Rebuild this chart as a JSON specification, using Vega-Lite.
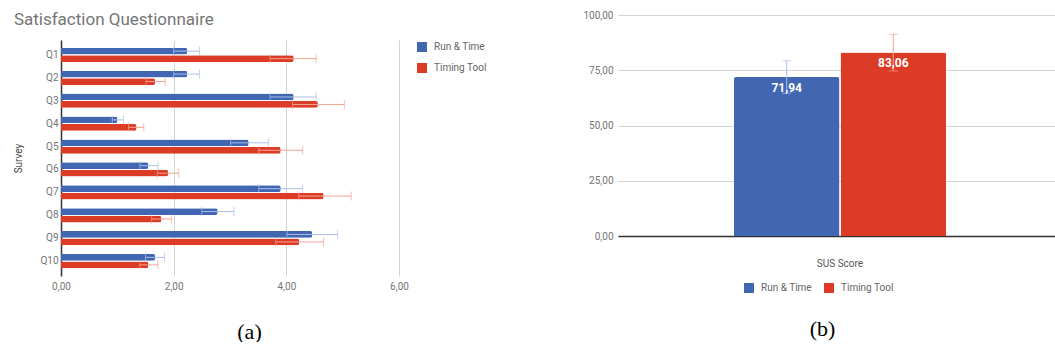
{
  "$schema": "https://vega.github.io/schema/vega-lite/v6.json",
  "padding": {"left": 13, "top": 10, "right": 0, "bottom": 0},
  "config": {
    "locale": {"number": {"decimal": ",", "thousands": ".", "grouping": [3], "currency": ["", " €"]}},
    "font": "Roboto",
    "view": {"stroke": null},
    "axis": {"labelColor": "#757575", "labelFontSize": 10, "labelFlush": false, "titleColor": "#444444", "titleFontWeight": "normal", "ticks": false, "domain": false, "gridColor": "#d4d4d4"},
    "legend": {"labelColor": "#666666", "labelFontSize": 10, "symbolType": "square", "symbolSize": 100, "symbolStrokeWidth": 0, "labelOffset": 7, "title": null}
  },
  "spacing": 95,
  "resolve": {"legend": {"color": "independent"}, "scale": {"color": "independent"}},
  "hconcat": [
    {
      "title": {"text": "Satisfaction Questionnaire", "anchor": "start", "frame": "bounds", "fontSize": 17, "fontWeight": "normal", "color": "#757575", "offset": -14},
      "width": 338,
      "height": 261,
      "data": {"values": [
        {"question": "Q1", "series": "Run & Time", "value": 2.24, "lo": 2.00, "hi": 2.46},
        {"question": "Q1", "series": "Timing Tool", "value": 4.13, "lo": 3.71, "hi": 4.53},
        {"question": "Q2", "series": "Run & Time", "value": 2.24, "lo": 2.00, "hi": 2.46},
        {"question": "Q2", "series": "Timing Tool", "value": 1.67, "lo": 1.51, "hi": 1.85},
        {"question": "Q3", "series": "Run & Time", "value": 4.13, "lo": 3.71, "hi": 4.53},
        {"question": "Q3", "series": "Timing Tool", "value": 4.56, "lo": 4.11, "hi": 5.03},
        {"question": "Q4", "series": "Run & Time", "value": 1.00, "lo": 0.91, "hi": 1.11},
        {"question": "Q4", "series": "Timing Tool", "value": 1.34, "lo": 1.20, "hi": 1.47},
        {"question": "Q5", "series": "Run & Time", "value": 3.33, "lo": 3.01, "hi": 3.68},
        {"question": "Q5", "series": "Timing Tool", "value": 3.90, "lo": 3.51, "hi": 4.29},
        {"question": "Q6", "series": "Run & Time", "value": 1.55, "lo": 1.40, "hi": 1.72},
        {"question": "Q6", "series": "Timing Tool", "value": 1.90, "lo": 1.71, "hi": 2.09},
        {"question": "Q7", "series": "Run & Time", "value": 3.90, "lo": 3.51, "hi": 4.29},
        {"question": "Q7", "series": "Timing Tool", "value": 4.66, "lo": 4.22, "hi": 5.15},
        {"question": "Q8", "series": "Run & Time", "value": 2.78, "lo": 2.50, "hi": 3.07},
        {"question": "Q8", "series": "Timing Tool", "value": 1.78, "lo": 1.61, "hi": 1.96},
        {"question": "Q9", "series": "Run & Time", "value": 4.46, "lo": 4.01, "hi": 4.91},
        {"question": "Q9", "series": "Timing Tool", "value": 4.23, "lo": 3.81, "hi": 4.66},
        {"question": "Q10", "series": "Run & Time", "value": 1.67, "lo": 1.50, "hi": 1.84},
        {"question": "Q10", "series": "Timing Tool", "value": 1.55, "lo": 1.40, "hi": 1.72}
      ]},
      "encoding": {
        "y": {"field": "question", "type": "nominal", "sort": null,
              "scale": {"range": [25, 261], "paddingInner": 0.38, "paddingOuter": 0.34},
              "axis": {"title": "Survey", "titleFontSize": 10, "domain": true, "domainColor": "#333333", "domainWidth": 1.5, "labelPadding": 3, "titlePadding": 16, "grid": false}},
        "yOffset": {"field": "series", "type": "nominal", "sort": ["Run & Time", "Timing Tool"], "scale": {"paddingInner": 0.1}}
      },
      "resolve": {"axis": {"x": "independent"}},
      "layer": [
        {
          "mark": {"type": "bar", "cornerRadiusEnd": 2},
          "encoding": {
            "x": {"field": "value", "type": "quantitative", "scale": {"domain": [0, 6]},
                  "axis": {"values": [0, 2, 4, 6], "format": ".2f", "grid": false, "labelPadding": 5,
                           "title": "(a)", "titleFont": "Liberation Serif", "titleFontSize": 22, "titleColor": "#000000",
                           "titleX": 188, "titleY": 55, "titleBaseline": "middle"}},
            "color": {"field": "series", "type": "nominal", "sort": ["Run & Time", "Timing Tool"],
                      "scale": {"domain": ["Run & Time", "Timing Tool"], "range": ["#4267b2", "#dc3c25"]},
                      "legend": {"orient": "none", "legendX": 356, "legendY": 27, "rowPadding": 11}}
          }
        },
        {
          "mark": {"type": "rule", "strokeWidth": 1},
          "encoding": {
            "x": {"field": "lo", "type": "quantitative",
                  "axis": {"orient": "top", "values": [2, 4, 6], "grid": true, "labels": false, "domain": false, "ticks": false, "title": null}},
            "x2": {"field": "hi"},
            "color": {"condition": {"test": "datum.series === 'Run & Time'", "value": "#a9bfe8"}, "value": "#f4a393"}
          }
        },
        {
          "mark": {"type": "tick", "thickness": 1, "size": 9, "orient": "vertical"},
          "encoding": {
            "x": {"field": "lo", "type": "quantitative", "axis": null},
            "color": {"condition": {"test": "datum.series === 'Run & Time'", "value": "#a9bfe8"}, "value": "#f4a393"}
          }
        },
        {
          "mark": {"type": "tick", "thickness": 1, "size": 9, "orient": "vertical"},
          "encoding": {
            "x": {"field": "hi", "type": "quantitative", "axis": null},
            "color": {"condition": {"test": "datum.series === 'Run & Time'", "value": "#a9bfe8"}, "value": "#f4a393"}
          }
        }
      ]
    },
    {
      "width": 444,
      "height": 221,
      "data": {"values": [
        {"metric": "SUS Score", "series": "Run & Time", "value": 71.94, "lo": 64.6, "hi": 79.3},
        {"metric": "SUS Score", "series": "Timing Tool", "value": 83.06, "lo": 74.7, "hi": 91.3}
      ]},
      "encoding": {
        "x": {"field": "metric", "type": "nominal",
              "scale": {"paddingInner": 0, "paddingOuter": 0.547},
              "axis": {"labelAngle": 0, "domain": true, "domainColor": "#333333", "domainWidth": 1.5, "labelPadding": 22, "labelColor": "#555555",
                       "title": "(b)", "titleFont": "Liberation Serif", "titleFontSize": 22, "titleColor": "#000000",
                       "titleX": 204, "titleY": 92, "titleBaseline": "middle"}},
        "xOffset": {"field": "series", "type": "nominal", "sort": ["Run & Time", "Timing Tool"], "scale": {"paddingInner": 0.01}}
      },
      "layer": [
        {
          "mark": {"type": "bar", "cornerRadiusTopLeft": 2, "cornerRadiusTopRight": 2},
          "encoding": {
            "y": {"field": "value", "type": "quantitative", "scale": {"domain": [0, 100]},
                  "axis": {"values": [0, 25, 50, 75, 100], "format": ".2f", "grid": true, "title": null, "labelPadding": 5}},
            "color": {"field": "series", "type": "nominal", "sort": ["Run & Time", "Timing Tool"],
                      "scale": {"domain": ["Run & Time", "Timing Tool"], "range": ["#4267b2", "#dc3c25"]},
                      "legend": {"orient": "none", "direction": "horizontal", "legendX": 126, "legendY": 268, "columnPadding": 12}}
          }
        },
        {
          "mark": {"type": "rule", "strokeWidth": 1},
          "encoding": {
            "y": {"field": "lo", "type": "quantitative"},
            "y2": {"field": "hi"},
            "color": {"condition": {"test": "datum.series === 'Run & Time'", "value": "#a9bfe8"}, "value": "#f4a393"}
          }
        },
        {
          "mark": {"type": "tick", "thickness": 1, "size": 9, "orient": "horizontal"},
          "encoding": {
            "y": {"field": "lo", "type": "quantitative"},
            "color": {"condition": {"test": "datum.series === 'Run & Time'", "value": "#a9bfe8"}, "value": "#f4a393"}
          }
        },
        {
          "mark": {"type": "tick", "thickness": 1, "size": 9, "orient": "horizontal"},
          "encoding": {
            "y": {"field": "hi", "type": "quantitative"},
            "color": {"condition": {"test": "datum.series === 'Run & Time'", "value": "#a9bfe8"}, "value": "#f4a393"}
          }
        },
        {
          "mark": {"type": "text", "color": "white", "fontWeight": "bold", "fontSize": 12, "dy": 11, "baseline": "middle"},
          "encoding": {
            "y": {"field": "value", "type": "quantitative"},
            "text": {"field": "value", "type": "quantitative", "format": ".2f"}
          }
        }
      ]
    }
  ]
}
